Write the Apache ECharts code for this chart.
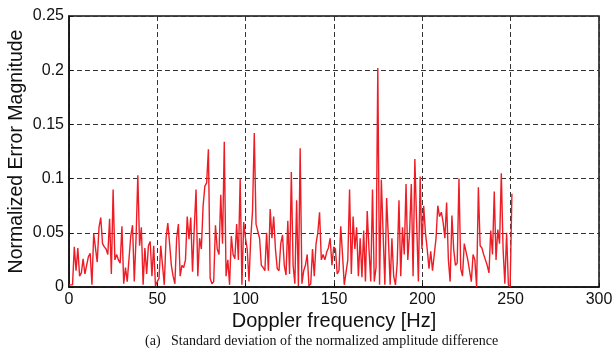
<!DOCTYPE html>
<html>
<head>
<meta charset="utf-8">
<script src="https://cdn.jsdelivr.net/npm/echarts@6/dist/echarts.min.js"></script>
<style>
  html, body { margin: 0; padding: 0; background: #fff; }
  #chart { width: 614px; height: 350px; }
</style>
</head>
<body>
<div id="chart"></div>
<script>
// Doppler frequency range covered by the samples [Hz]
var freqStart = 0;
var freqEnd = 250.7;

// normalized error magnitude (about 1 Hz apart)
var errValues = [
  0.002, 0.003, 0.002, 0.037, 0.015, 0.036, 0.010, 0.013, 0.026, 0.012,
  0.012, 0.028, 0.031, 0.002, 0.049, 0.050, 0.023, 0.055, 0.064, 0.040,
  0.037, 0.035, 0.030, 0.063, 0.012, 0.090, 0.025, 0.030, 0.025, 0.022,
  0.056, 0.003, 0.018, 0.005, 0.005, 0.047, 0.057, 0.005, 0.045, 0.103,
  0.038, 0.055, 0.002, 0.036, 0.012, 0.038, 0.042, 0.010, 0.038, 0.001,
  0.005, 0.008, 0.038, 0.020, 0.002, 0.045, 0.059, 0.040, 0.020, 0.010,
  0.003, 0.045, 0.058, 0.010, 0.020, 0.018, 0.025, 0.065, 0.044, 0.064,
  0.014, 0.055, 0.090, 0.010, 0.045, 0.035, 0.075, 0.093, 0.096, 0.127,
  0.008, 0.003, 0.005, 0.057, 0.035, 0.030, 0.085, 0.040, 0.134, 0.010,
  0.025, 0.002, 0.047, 0.030, 0.026, 0.058, 0.025, 0.100, 0.002,
  0.060, 0.045, 0.035, 0.005, 0.045, 0.070, 0.142, 0.058, 0.058, 0.045,
  0.020, 0.018, 0.015, 0.050, 0.015, 0.072, 0.045, 0.065, 0.035, 0.017,
  0.015, 0.040, 0.048, 0.020, 0.011, 0.061, 0.012, 0.106, 0.020, 0.003,
  0.080, 0.001, 0.128, 0.003, 0.015, 0.020, 0.030, 0.001, 0.003, 0.035,
  0.010, 0.040, 0.050, 0.069, 0.025, 0.030, 0.025, 0.032, 0.036, 0.045,
  0.020, 0.037, 0.035, 0.012, 0.015, 0.056, 0.030, 0.002, 0.002, 0.025,
  0.090, 0.012, 0.065, 0.035, 0.055, 0.010, 0.045, 0.009, 0.052, 0.005,
  0.070, 0.035, 0.005, 0.090, 0.005, 0.018, 0.202, 0.002, 0.099,
  0.050, 0.002, 0.082, 0.045, 0.002, 0.045, 0.010, 0.002, 0.022, 0.080,
  0.010, 0.055, 0.030, 0.095, 0.025, 0.050, 0.095, 0.010, 0.118, 0.060,
  0.005, 0.102, 0.035, 0.075, 0.050, 0.035, 0.017, 0.033, 0.015,
  0.030, 0.045, 0.075, 0.065, 0.069, 0.060, 0.045, 0.078, 0.025,
  0.005, 0.066, 0.035, 0.020, 0.022, 0.100, 0.017, 0.010, 0.040, 0.039,
  0.025, 0.015, 0.005, 0.030, 0.025, 0.000, 0.092, 0.038, 0.036, 0.030,
  0.025, 0.020, 0.013, 0.052, 0.030, 0.088, 0.025, 0.053, 0.040, 0.105,
  0.035, 0.003, 0.050, 0.002, 0.000, 0.086
];

var xTicks = [0, 50, 100, 150, 200, 250, 300];
var yTicks = [0, 0.05, 0.1, 0.15, 0.2, 0.25];

var xName = 'Doppler frequency [Hz]';
var yName = 'Normalized Error Magnitude';
var caption = '(a)   Standard deviation of the normalized amplitude difference';

// pair each value with its frequency
var step = (freqEnd - freqStart) / (errValues.length - 1);
var seriesData = errValues.map(function (v, i) {
  return [freqStart + i * step, v];
});

var chart = echarts.init(document.getElementById('chart'));

var gridLine = { show: true, lineStyle: { color: '#333', type: [5, 3], width: 1 } };

chart.setOption({
  animation: false,
  backgroundColor: '#fff',
  graphic: [{
    type: 'text',
    left: 145,
    top: 334,
    style: {
      text: caption,
      fontFamily: 'Liberation Serif', fontSize: 14, fill: '#111'
    }
  }],
  grid: {
    left: 69, right: 15, top: 16, bottom: 63,
    outerBoundsMode: 'none',
    containLabel: false,
    show: true, borderColor: '#111', borderWidth: 1.5, backgroundColor: 'transparent'
  },
  xAxis: {
    type: 'value',
    min: xTicks[0], max: xTicks[xTicks.length - 1], interval: 50,
    name: xName, nameLocation: 'middle', nameGap: 24, nameMoveOverlap: false,
    nameTextStyle: { fontFamily: 'Liberation Sans', fontSize: 20, color: '#111' },
    axisLine: { show: true, lineStyle: { color: '#111', width: 1.5 } },
    axisTick: { show: true, inside: true, length: 4, lineStyle: { color: '#111' } },
    axisLabel: { fontFamily: 'Liberation Sans', fontSize: 16, color: '#111', margin: 5 },
    splitLine: gridLine
  },
  yAxis: {
    type: 'value',
    min: yTicks[0], max: yTicks[yTicks.length - 1], interval: 0.05,
    name: yName, nameLocation: 'middle', nameGap: 42, nameMoveOverlap: false,
    nameTextStyle: { fontFamily: 'Liberation Sans', fontSize: 19.5, color: '#111' },
    axisLine: { show: true, lineStyle: { color: '#111', width: 1.5 } },
    axisTick: { show: true, inside: true, length: 4, lineStyle: { color: '#111' } },
    axisLabel: {
      fontFamily: 'Liberation Sans', fontSize: 16, color: '#111', margin: 5,
      formatter: function (v) { return String(+v.toFixed(2)); }
    },
    splitLine: gridLine
  },
  series: [{
    type: 'line',
    data: seriesData,
    showSymbol: false,
    lineStyle: { color: '#ee1c25', width: 1.4 },
    itemStyle: { color: '#ee1c25' }
  }]
});
</script>
</body>
</html>
